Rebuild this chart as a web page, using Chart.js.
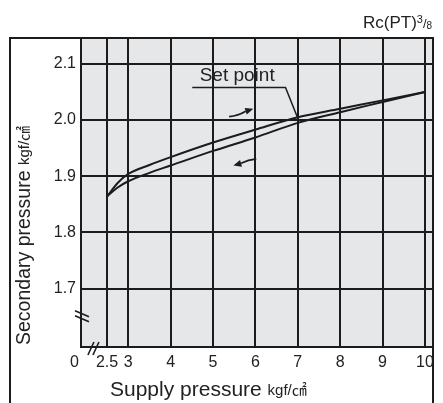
<!DOCTYPE html>
<html>
<head>
<meta charset="utf-8">
<script src="https://cdn.jsdelivr.net/npm/chart.js@4.4.0/dist/chart.umd.min.js"></script>
<style>
  html, body { margin: 0; padding: 0; background: #fff; }
</style>
</head>
<body>
<canvas id="pressureChart" width="443" height="403"></canvas>
<script>
// supply pressure (kgf/cm2) vs secondary pressure (kgf/cm2)
const supply = [2.5, 2.75, 3, 3.5, 4, 5, 6, 7, 8, 9, 10];
const risingPressure = [1.864, 1.888, 1.904, 1.920, 1.934, 1.960, 1.983, 2.005, 2.020, 2.035, 2.050];
const fallingPressure = [1.864, 1.880, 1.891, 1.906, 1.919, 1.945, 1.969, 1.995, 2.014, 2.032, 2.050];
const xTicks = [2.5, 3, 4, 5, 6, 7, 8, 9, 10];
const yTicks = [1.7, 1.8, 1.9, 2.0, 2.1];
const setPoint = [7, 2.003];

const INK = "#1c1c1c";
const FONT = "'Liberation Sans', 'Noto Sans CJK JP', sans-serif";

const toPoints = ys => supply.map((x, i) => ({ x: x, y: ys[i] }));

// arrow helper, positions in data units
function arrow(ctx, xs, ys, from, to, bend) {
  const x1 = xs.getPixelForValue(from[0]), y1 = ys.getPixelForValue(from[1]);
  const x2 = xs.getPixelForValue(to[0]), y2 = ys.getPixelForValue(to[1]);
  const ang = Math.atan2(y2 - y1, x2 - x1);
  const hx = x2 - Math.cos(ang) * 8, hy = y2 - Math.sin(ang) * 8;
  const mx = (x1 + hx) / 2 - Math.sin(ang) * bend, my = (y1 + hy) / 2 + Math.cos(ang) * bend;
  ctx.beginPath();
  ctx.moveTo(x1, y1);
  ctx.quadraticCurveTo(mx, my, hx, hy);
  ctx.stroke();
  ctx.beginPath();
  ctx.moveTo(x2, y2);
  ctx.lineTo(hx - Math.sin(ang) * 3.5, hy + Math.cos(ang) * 3.5);
  ctx.lineTo(hx + Math.sin(ang) * 3.5, hy - Math.cos(ang) * 3.5);
  ctx.closePath();
  ctx.fill();
}

const decor = {
  id: "decor",
  beforeDraw(chart) {
    const { ctx, chartArea: a } = chart;
    ctx.save();
    ctx.fillStyle = "#e6e7e9";
    ctx.fillRect(a.left, a.top, a.right - a.left, a.bottom - a.top);
    ctx.restore();
  },
  afterDraw(chart) {
    const { ctx, chartArea: a } = chart;
    const xs = chart.scales.x, ys = chart.scales.y;
    const fl = chart.options.layout.padding.left;
    ctx.save();
    ctx.strokeStyle = INK;
    ctx.fillStyle = INK;
    ctx.lineWidth = 2;

    // outer frame
    ctx.beginPath();
    ctx.moveTo(fl, chart.height);
    ctx.lineTo(fl, a.top);
    ctx.lineTo(a.right, a.top);
    ctx.lineTo(a.right, chart.height);
    ctx.stroke();

    // axis break marks
    ctx.lineWidth = 1.6;
    const by = ys.getPixelForValue(1.65);
    [-3, 2].forEach(d => {
      ctx.beginPath();
      ctx.moveTo(a.left - 6, by + d - 3);
      ctx.lineTo(a.left + 8, by + d + 3);
      ctx.stroke();
    });
    const bx = xs.getPixelForValue(2.19);
    [-3, 2].forEach(d => {
      ctx.beginPath();
      ctx.moveTo(bx + d - 3, a.bottom + 8);
      ctx.lineTo(bx + d + 3, a.bottom - 5);
      ctx.stroke();
    });

    // direction arrows
    ctx.lineWidth = 1.8;
    arrow(ctx, xs, ys, [5.38, 2.006], [5.95, 2.020], 2);
    arrow(ctx, xs, ys, [6.02, 1.931], [5.48, 1.919], 1.5);

    // set point leader
    ctx.lineWidth = 1.5;
    const ly = ys.getPixelForValue(2.058);
    ctx.beginPath();
    ctx.moveTo(xs.getPixelForValue(4.51), ly);
    ctx.lineTo(xs.getPixelForValue(6.71), ly);
    ctx.lineTo(xs.getPixelForValue(setPoint[0]), ys.getPixelForValue(setPoint[1]));
    ctx.stroke();
    ctx.fillStyle = "#222";
    ctx.font = "19px " + FONT;
    ctx.textAlign = "center";
    ctx.textBaseline = "alphabetic";
    ctx.fillText("Set point", xs.getPixelForValue(5.57), ly - 6);

    // x axis title
    ctx.textAlign = "left";
    let tx = a.left + 29;
    const tyX = chart.height - 7;
    ctx.font = "21px " + FONT;
    ctx.fillText("Supply pressure ", tx, tyX);
    tx += ctx.measureText("Supply pressure ").width;
    ctx.font = "15px " + FONT;
    ctx.fillText("kgf/㎠", tx, tyX - 1);

    // y axis title
    ctx.save();
    ctx.translate(fl + 20, a.bottom - 2);
    ctx.rotate(-Math.PI / 2);
    ctx.font = "19.5px " + FONT;
    ctx.fillText("Secondary pressure ", 0, 0);
    const w = ctx.measureText("Secondary pressure ").width;
    ctx.font = "15px " + FONT;
    ctx.fillText("kgf/㎠", w, -1);
    ctx.restore();

    // thread size note
    let rx = a.right - 70;
    const ry = a.top - 10;
    ctx.font = "17px " + FONT;
    ctx.fillText("Rc(PT)", rx, ry);
    rx += ctx.measureText("Rc(PT)").width;
    ctx.font = "11px " + FONT;
    ctx.fillText("3", rx, ry - 5);
    rx += ctx.measureText("3").width;
    ctx.font = "13px " + FONT;
    ctx.fillText("/", rx, ry);
    rx += ctx.measureText("/").width;
    ctx.font = "10px " + FONT;
    ctx.fillText("8", rx, ry + 1);

    ctx.restore();
  }
};

new Chart(document.getElementById("pressureChart"), {
  type: "line",
  data: {
    datasets: [
      {
        label: "Rising",
        data: toPoints(risingPressure),
        borderColor: INK,
        borderWidth: 2,
        pointRadius: 0,
        cubicInterpolationMode: "monotone",
        fill: false
      },
      {
        label: "Falling",
        data: toPoints(fallingPressure),
        borderColor: INK,
        borderWidth: 2,
        pointRadius: 0,
        cubicInterpolationMode: "monotone",
        fill: false
      }
    ]
  },
  options: {
    responsive: false,
    animation: false,
    devicePixelRatio: 1,
    layout: { padding: { left: 10, top: 38, right: 10, bottom: 0 } },
    plugins: { legend: { display: false }, tooltip: { enabled: false } },
    scales: {
      x: {
        type: "linear",
        min: 1.885,
        max: 10.19,
        afterBuildTicks: s => { s.ticks = [{ value: s.min }].concat(xTicks.map(v => ({ value: v }))); },
        afterFit: s => { s.height = 56; },
        ticks: {
          autoSkip: false,
          maxRotation: 0,
          padding: 6,
          color: "#222",
          font: { size: 16, family: FONT },
          callback: (v, i) => i === 0 ? "0\u00a0\u00a0\u00a0" : String(v)
        },
        grid: { color: INK, lineWidth: 2, drawTicks: false },
        border: { color: INK, width: 2 }
      },
      y: {
        type: "linear",
        min: 1.596,
        max: 2.146,
        afterBuildTicks: s => { s.ticks = yTicks.map(v => ({ value: v })); },
        afterFit: s => { s.width = 71; },
        ticks: {
          padding: 5,
          color: "#222",
          font: { size: 16, family: FONT },
          callback: v => v.toFixed(1)
        },
        grid: { color: INK, lineWidth: 2, drawTicks: false },
        border: { color: INK, width: 2 }
      }
    }
  },
  plugins: [decor]
});
</script>
</body>
</html>
